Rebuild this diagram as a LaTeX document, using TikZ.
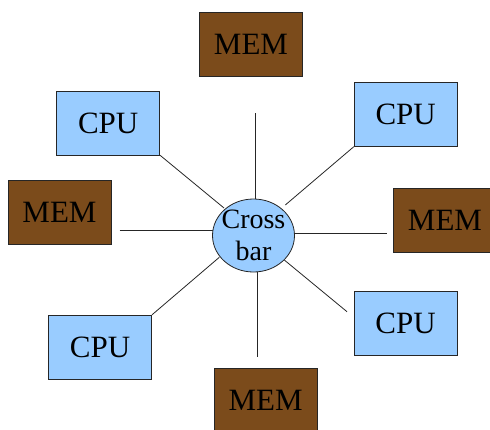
\documentclass[tikz,border=0pt]{standalone}
\usepackage{fontspec}
\newfontfamily\labelfont{LiberationSerif}[Extension=.ttf, UprightFont=*-Regular, BoldFont=*-Bold]
\usetikzlibrary{shapes.geometric}
\definecolor{cpublue}{RGB}{153,204,255}
\definecolor{membrown}{RGB}{123,75,27}
\tikzset{
  unit/.style={draw=black!85, line width=0.8pt, minimum width=103pt, minimum height=64pt,
    inner sep=0pt, font=\labelfont\fontsize{31}{36}\selectfont},
  cpubox/.style={unit, fill=cpublue},
  membox/.style={unit, fill=membrown},
  hub/.style={ellipse, draw=black!85, line width=0.8pt, fill=cpublue, minimum width=82pt,
    minimum height=73pt, inner sep=-8pt, align=center,
    font=\labelfont\fontsize{28}{32}\selectfont},
  link/.style={draw=black!85, line width=0.8pt}
}
\begin{document}
\begin{tikzpicture}[x=1pt,y=-1pt]
\useasboundingbox (0,0) rectangle (490,429);
\clip (0,0) rectangle (490,429);

% processors and memories around the crossbar
\node[membox] (memT) at (251,44.5) {MEM};
\node[cpubox] (cpuTL) at (108.2,122.9) {CPU};
\node[cpubox] (cpuTR) at (405.7,114.3) {CPU};
\node[membox] (memL) at (59.5,212.6) {MEM};
\node[membox] (memR) at (445,220) {MEM};
\node[cpubox] (cpuBL) at (100,347.3) {CPU};
\node[cpubox] (cpuBR) at (405.5,323.2) {CPU};
\node[membox] (memB) at (265.7,400.3) {MEM};

% free ends of the spokes
\coordinate (eT1) at (255.5,113);
\coordinate (eT2) at (255.5,199);
\coordinate (eTL) at (224,208);
\coordinate (eTR) at (285.3,205);
\coordinate (eL1) at (119.7,230.7);
\coordinate (eL2) at (214,230.7);
\coordinate (eR1) at (293,233.7);
\coordinate (eR2) at (387,233.7);
\coordinate (eBL) at (219.3,257.3);
\coordinate (eBR1) at (284.3,260);
\coordinate (eBR2) at (347,311.7);
\coordinate (eB1) at (257,271);
\coordinate (eB2) at (257,356.7);

% spokes
\draw[link] (eT1) -- (eT2);
\draw[link] (cpuTL.south east) -- (eTL);
\draw[link] (cpuTR.south west) -- (eTR);
\draw[link] (eL1) -- (eL2);
\draw[link] (eR1) -- (eR2);
\draw[link] (cpuBL.north east) -- (eBL);
\draw[link] (eBR1) -- (eBR2);
\draw[link] (eB1) -- (eB2);

% crossbar hub
\node[hub] (xbar) at (253.5,235.5) {Cross\\bar};
\end{tikzpicture}
\end{document}
